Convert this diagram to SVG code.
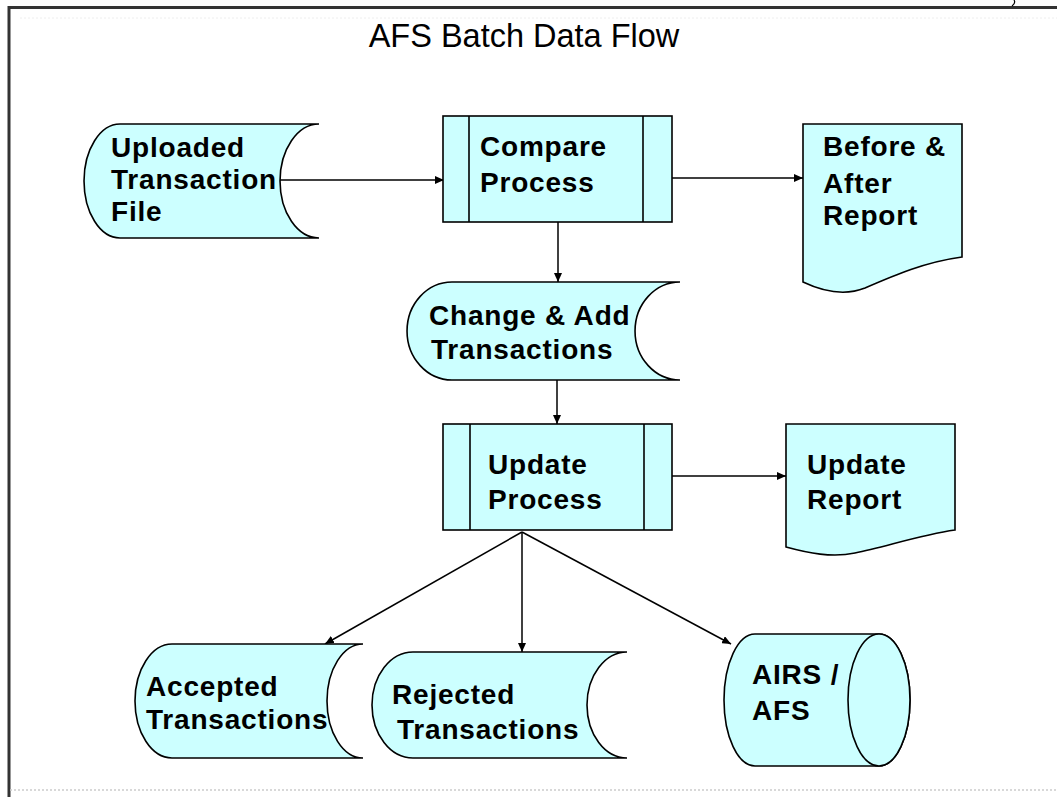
<svg xmlns="http://www.w3.org/2000/svg" width="1057" height="797" viewBox="0 0 1057 797">
<style>
.shape{fill:#CCFFFF;stroke:#000;stroke-width:1.6;stroke-linejoin:miter}
.line{fill:none;stroke:#000;stroke-width:1.6}
.lbl{font-family:"Liberation Sans",Arial,sans-serif;font-weight:bold;font-size:28px;letter-spacing:0.8px;fill:#000}
.title{font-family:"Liberation Sans",Arial,sans-serif;font-size:32.5px;fill:#000}
.conn{fill:none;stroke:#000;stroke-width:1.5;marker-end:url(#arr)}
</style>
<defs>
<marker id="arr" markerUnits="userSpaceOnUse" markerWidth="10" markerHeight="8" refX="9" refY="4" orient="auto">
<path d="M0,0 L9,4 L0,8 Z" fill="#000"/>
</marker>
</defs>
<rect width="1057" height="797" fill="#fff"/>
<g id="frame">
<line x1="8" y1="7.5" x2="1057" y2="7.5" stroke="#333" stroke-width="3"/>
<line x1="9" y1="6" x2="9" y2="797" stroke="#333" stroke-width="3"/>
<line x1="10" y1="790" x2="1057" y2="790" stroke="#ccc" stroke-width="1.5" stroke-dasharray="2,2"/>
<line x1="20" y1="18" x2="1057" y2="18" stroke="#eee" stroke-width="1" stroke-dasharray="2,2"/>
<path d="M1014,0 Q1016,3 1012,6" fill="none" stroke="#000" stroke-width="1.2"/>
</g>
<text class="title" x="524" y="47" text-anchor="middle">AFS Batch Data Flow</text>
<g id="connectors">
<path class="conn" d="M280,180 H444"/>
<path class="conn" d="M672,178 H803"/>
<path class="conn" d="M558,222 V282"/>
<path class="conn" d="M557,380 V424"/>
<path class="conn" d="M672,476 H786"/>
<path class="conn" d="M522,532 L325,644"/>
<path class="conn" d="M522,532 V652"/>
<path class="conn" d="M522,532 L731,644"/>
</g>
<g id="uploaded">
<path class="shape" d="M120,124 H319 A39,57 0 0 0 319,238 H120 A36,57 0 0 1 120,124 Z"/>
<text class="lbl" x="111" y="157">Uploaded</text>
<text class="lbl" x="111" y="189">Transaction</text>
<text class="lbl" x="111" y="221">File</text>
</g>
<g id="compare">
<rect class="shape" x="443" y="116" width="229" height="106"/>
<line class="line" x1="469" y1="116" x2="469" y2="222"/>
<line class="line" x1="643" y1="116" x2="643" y2="222"/>
<text class="lbl" x="480" y="156">Compare</text>
<text class="lbl" x="480" y="192">Process</text>
</g>
<g id="beforeafter">
<path class="shape" d="M803,124 H962 V257 C925,262 895,275 865,288 C845,296 822,291 803,282 Z"/>
<text class="lbl" x="823" y="156">Before &amp;</text>
<text class="lbl" x="823" y="193">After</text>
<text class="lbl" x="823" y="225">Report</text>
</g>
<g id="changeadd">
<path class="shape" d="M452,282 H680 A45,49 0 0 0 680,380 H452 A45,49 0 0 1 452,282 Z"/>
<text class="lbl" x="429" y="325">Change &amp; Add</text>
<text class="lbl" x="431" y="359">Transactions</text>
</g>
<g id="update">
<rect class="shape" x="443" y="424" width="229" height="106"/>
<line class="line" x1="470" y1="424" x2="470" y2="530"/>
<line class="line" x1="644" y1="424" x2="644" y2="530"/>
<text class="lbl" x="488" y="474">Update</text>
<text class="lbl" x="488" y="509">Process</text>
</g>
<g id="updatereport">
<path class="shape" d="M786,424 H955 V530 C920,535 885,547 855,553 C832,558 808,553 786,547 Z"/>
<text class="lbl" x="807" y="474">Update</text>
<text class="lbl" x="807" y="509">Report</text>
</g>
<g id="accepted">
<path class="shape" d="M172,644 H363 A36,57 0 0 0 363,758 H172 A37,57 0 0 1 172,644 Z"/>
<text class="lbl" x="146" y="696">Accepted</text>
<text class="lbl" x="146" y="729">Transactions</text>
</g>
<g id="rejected">
<path class="shape" d="M413,652 H627 A40,53 0 0 0 627,758 H413 A41,53 0 0 1 413,652 Z"/>
<text class="lbl" x="392" y="704">Rejected</text>
<text class="lbl" x="397" y="739">Transactions</text>
</g>
<g id="airs">
<path class="shape" d="M755,634 H879 A31,66 0 0 1 879,766 H755 A31,66 0 0 1 755,634 Z"/>
<ellipse class="shape" cx="879" cy="700" rx="31" ry="66"/>
<text class="lbl" x="752" y="684">AIRS /</text>
<text class="lbl" x="752" y="720">AFS</text>
</g>
</svg>
